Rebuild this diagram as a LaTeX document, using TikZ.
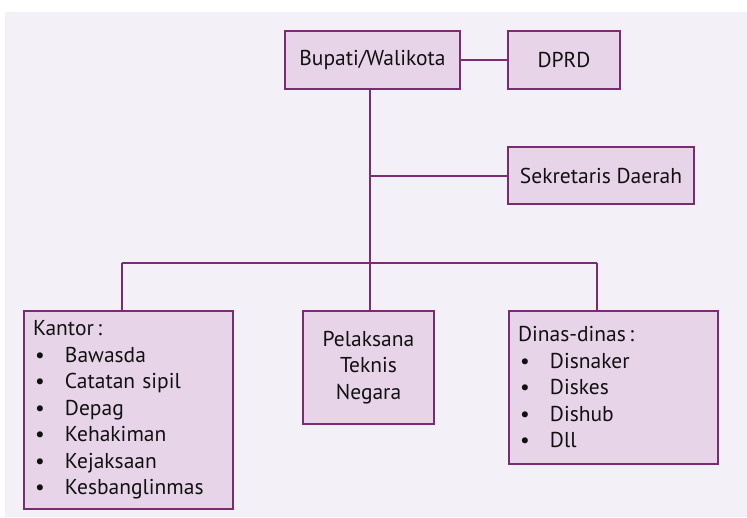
\documentclass[tikz,border=0pt]{standalone}
\usepackage{fontspec}
\setmainfont{PT Sans}
\definecolor{bgc}{HTML}{F3F0F7}
\definecolor{boxfill}{HTML}{E8D4E8}
\definecolor{boxline}{HTML}{7A2C72}
\definecolor{txt}{HTML}{111111}
\newcommand{\itm}[1]{\hspace*{2pt}\makebox[30pt][l]{•}#1}
\begin{document}
\begin{tikzpicture}[x=1pt,y=-1pt,
  orgbox/.style={draw=boxline,fill=boxfill,line width=2pt,inner sep=0pt,text=txt,font=\fontsize{21.5}{26.5}\selectfont},
  listbox/.style={orgbox,align=left,anchor=north west,inner xsep=9pt},
  conn/.style={draw=boxline,line width=2pt}]
\useasboundingbox (0,0) rectangle (747,517);
\fill[bgc] (5,12) rectangle (747,517);
\node[orgbox,minimum width=175pt,minimum height=58pt] (bup) at (372.5,60) {Bupati/Walikota};
\node[orgbox,minimum width=112pt,minimum height=58pt] (dprd) at (564,60) {DPRD};
\node[orgbox,minimum width=186pt,minimum height=57pt] (sek) at (601,175.5) {Sekretaris Daerah};
\node[listbox,text width=191pt,minimum height=198pt] (kan) at (23,310) {Kantor\,:\\
\itm{Bawasda}\\
\itm{Catatan sipil}\\
\itm{Depag}\\
\itm{Kehakiman}\\
\itm{Kejaksaan}\\
\itm{Kesbanglinmas}};
\node[orgbox,align=center,minimum width=131pt,minimum height=113pt,anchor=north west] (pel) at (302,310) {Pelaksana\\Teknis\\Negara};
\node[listbox,text width=191pt,minimum height=153pt] (din) at (508,310) {Dinas-dinas\,:\\
\itm{Disnaker}\\
\itm{Diskes}\\
\itm{Dishub}\\
\itm{Dll}};
\coordinate (j1) at (370,175.5);
\coordinate (j2) at (370,263);
\coordinate (jl) at (122,263);
\coordinate (jr) at (597,263);
\draw[conn] (bup) -- (dprd);
\draw[conn] (bup.south -| j1) -- (j2);
\draw[conn] (j1) -- (sek.west);
\draw[conn] (jl) -- (jr);
\draw[conn] (jl) -- (jl |- kan.north);
\draw[conn] (j2) -- (j2 |- pel.north);
\draw[conn] (jr) -- (jr |- din.north);
\end{tikzpicture}
\end{document}
